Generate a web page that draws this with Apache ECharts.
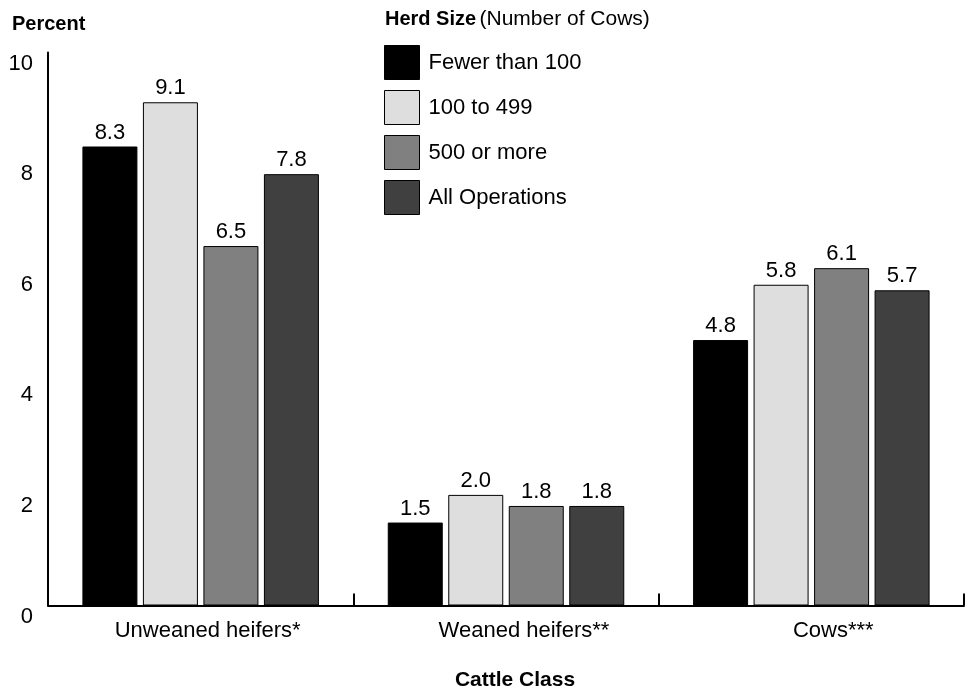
<!DOCTYPE html>
<html>
<head>
<meta charset="utf-8">
<script src="https://cdn.jsdelivr.net/npm/echarts@6/dist/echarts.min.js"></script>
<style>
html,body{margin:0;padding:0;background:#fff;}
#chart{width:972px;height:692px;}
</style>
</head>
<body>
<div id="chart"></div>
<script>
var categories = ['Unweaned heifers*', 'Weaned heifers**', 'Cows***'];
var labelShift = [14, 36, 44];
var seriesNames = ['Fewer than 100', '100 to 499', '500 or more', 'All Operations'];
var fewerThan100 = [8.3, 1.5, 4.8];
var from100to499 = [9.1, 2.0, 5.8];
var from500OrMore = [6.5, 1.8, 6.1];
var allOperations = [7.8, 1.8, 5.7];
var yTicks = [0, 2, 4, 6, 8, 10];
var colors = ['#000000', '#dedede', '#808080', '#404040'];

var FONT = '"Liberation Sans", Arial, Helvetica, sans-serif';
var FS = 22;
var seriesData = [fewerThan100, from100to499, from500OrMore, allOperations];

var chart = echarts.init(document.getElementById('chart'), null, {renderer: 'canvas'});

var series = seriesData.map(function (d, i) {
  return {
    name: seriesNames[i],
    type: 'bar',
    data: d,
    barWidth: 55,
    barGap: '10%',
    itemStyle: {color: colors[i], borderColor: '#000', borderWidth: 1},
    label: {
      show: true,
      position: 'top',
      distance: 3,
      color: '#000',
      fontFamily: FONT,
      fontSize: FS,
      formatter: function (p) { return p.value.toFixed(1); }
    },
    emphasis: {disabled: true}
  };
});

chart.setOption({
  animation: false,
  backgroundColor: '#fff',
  textStyle: {fontFamily: FONT},
  grid: {left: 48, right: 8, top: 52.5, bottom: 86.5, containLabel: false},
  graphic: [
    {type: 'text', left: 12, top: 14, style: {text: 'Percent', font: 'bold 20px ' + FONT, fill: '#000'}},
    {type: 'text', x: 515, y: 680, style: {text: 'Cattle Class', font: 'bold 21px ' + FONT, fill: '#000', align: 'center', verticalAlign: 'middle'}},
    {type: 'text', left: 385, top: 9, style: {
      text: '{b|Herd Size} {r|(Number of Cows)}',
      rich: {
        b: {fontFamily: FONT, fontWeight: 'bold', fontSize: 20, fill: '#000'},
        r: {fontFamily: FONT, fontSize: 21, fill: '#000'}
      }
    }}
  ],
  legend: {
    orient: 'vertical',
    left: 379,
    top: 40,
    itemWidth: 35,
    itemHeight: 34,
    itemGap: 10,
    icon: 'rect',
    data: seriesNames,
    itemStyle: {borderColor: '#000', borderWidth: 1},
    textStyle: {fontFamily: FONT, fontSize: FS, color: '#000', padding: [0, 0, 0, 4]},
    selectedMode: false
  },
  xAxis: {
    type: 'category',
    data: categories.map(function (c, i) {
      return {value: c, textStyle: {padding: [0, 0, 0, labelShift[i]]}};
    }),
    axisLine: {show: true, lineStyle: {color: '#000', width: 2}},
    axisTick: {show: true, inside: true, length: 12, alignWithLabel: false, lineStyle: {color: '#000', width: 2}},
    axisLabel: {color: '#000', fontFamily: FONT, fontSize: FS, margin: 14, interval: 0},
    splitLine: {show: false}
  },
  yAxis: {
    type: 'value',
    min: yTicks[0],
    max: yTicks[yTicks.length - 1],
    interval: yTicks[1] - yTicks[0],
    axisLine: {show: true, lineStyle: {color: '#000', width: 2}},
    axisTick: {show: false},
    splitLine: {show: false},
    axisLabel: {
      color: '#000', fontFamily: FONT, fontSize: FS, margin: 15,
      verticalAlign: 'top'
    }
  },
  series: series
});
</script>
</body>
</html>
